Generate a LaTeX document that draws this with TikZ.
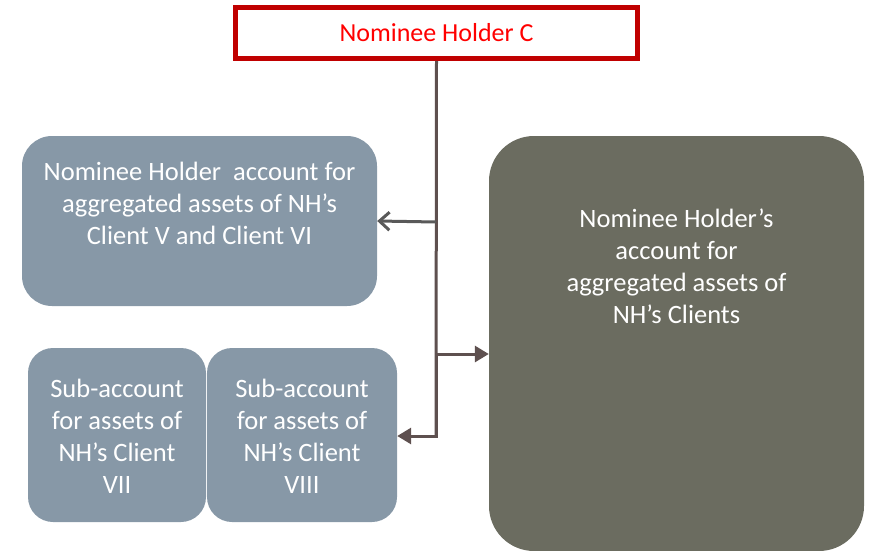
\documentclass[tikz,border=0pt]{standalone}
\usepackage{fontspec}
\setmainfont{Carlito}
\usetikzlibrary{arrows.meta}
\definecolor{nhred}{RGB}{192,0,0}
\definecolor{nhtext}{RGB}{255,0,0}
\definecolor{boxblue}{RGB}{135,152,167}
\definecolor{boxolive}{RGB}{107,108,96}
\definecolor{linebrown}{RGB}{94,80,79}
\definecolor{linegray}{RGB}{89,89,89}

\tikzset{
  acct/.style={fill=boxblue, rounded corners=25pt, inner sep=0pt},
  accttext/.style={text=white, font=\fontsize{26.5}{32}\selectfont, align=center, anchor=north, inner sep=0pt},
  link/.style={draw=linebrown, line width=3pt},
}

\begin{document}
\begin{tikzpicture}[x=1pt, y=-1pt]
  \useasboundingbox (0,0) rectangle (871,551);
  \clip (0,0) rectangle (871,551);

  % holder on top
  \node[draw=nhred, line width=5pt, fill=white, minimum width=402pt, minimum height=51pt,
        text=nhtext, font=\fontsize{26}{30}\selectfont] (holder) at (436.5,33) {Nominee Holder C};

  % accounts
  \node[acct, rounded corners=30pt, minimum width=355pt, minimum height=170pt] (aggr) at (199.5,221) {};
  \node[accttext] (aggrtext) at (199.5,161.5) {Nominee Holder\ \ account for\\aggregated assets of NH’s\\Client V and Client VI};

  \node[fill=boxolive, rounded corners=45pt, inner sep=0pt, minimum width=375pt, minimum height=415pt] (clients) at (676.5,343.5) {};
  \node[accttext] (clientstext) at (676.5,208.5) {Nominee Holder’s\\account for\\aggregated assets of\\NH’s Clients};

  \node[acct, minimum width=178pt, minimum height=174pt] (subvii) at (117,435) {};
  \node[accttext] (subviitext) at (117,378.5) {Sub-account\\for assets of\\NH’s Client\\VII};

  \node[acct, minimum width=190pt, minimum height=174pt] (subviii) at (302,435) {};
  \node[accttext] (subviiitext) at (302,378.5) {Sub-account\\for assets of\\NH’s Client\\VIII};

  % trunk and branches
  \coordinate (ta) at (436,222);
  \coordinate (tb) at (436,354);
  \coordinate (tc) at (436,436);
  \draw[link] (holder.south) -- (tc);
  \draw[draw=linegray, line width=3pt, -{Straight Barb[length=10pt, width=18pt, line width=3pt]}]
    (ta) -- (aggr.east);
  \draw[link, -{Triangle[length=14pt, width=16pt, fill=linebrown]}] (tb) -- (clients.west |- tb);
  \draw[link, line join=miter, -{Triangle[length=14pt, width=16pt, fill=linebrown]}] (tb) -- (tc) -- (subviii.east |- tc);
\end{tikzpicture}
\end{document}
